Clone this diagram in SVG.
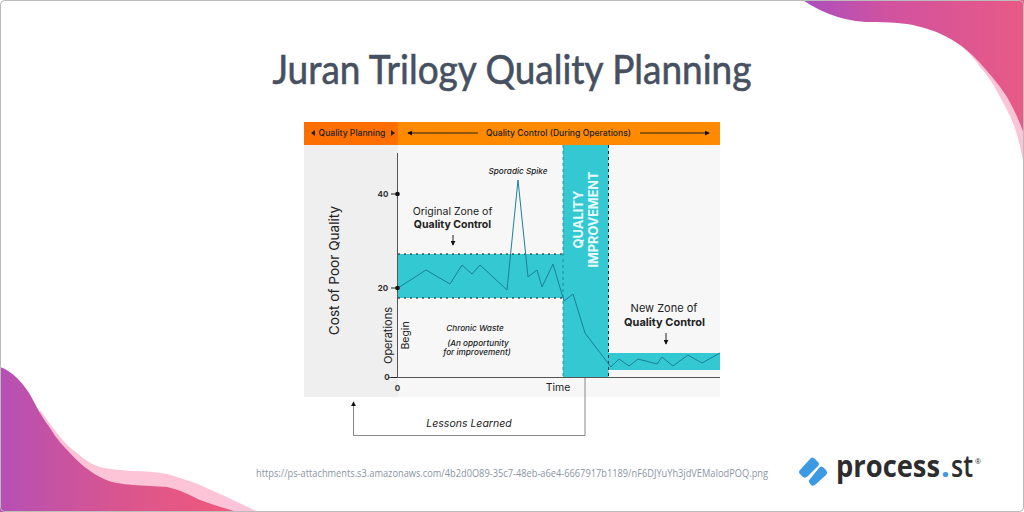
<svg xmlns="http://www.w3.org/2000/svg" width="1024" height="512" viewBox="0 0 1024 512">
<style>
text{font-family:"Inter","Liberation Sans",sans-serif;fill:#222}
.s{font-size:8.6px;font-weight:500}
.i{font-size:8.200px;font-style:italic;font-weight:500}
.m{font-size:10.500px}
.b{font-size:10.500px;font-weight:700}
.m2{font-size:11px}
.b2{font-size:11px;font-weight:700}
.t{font-size:8px;font-weight:700;fill:#333}
.q{font-size:13.500px;font-weight:700;fill:#e8fbfc}
.ax{fill:none;stroke:#555;stroke-width:1}
.thin{fill:none;stroke:#222;stroke-width:1}
.dash{fill:none;stroke:#111;stroke-width:1;stroke-dasharray:2 4}
.lg{font-family:"Open Sans",sans-serif;font-size:31px;font-weight:700;fill:#2d2d2d}
</style>
<defs>
<linearGradient id="g1" gradientUnits="userSpaceOnUse" x1="800" y1="0" x2="1024" y2="0"><stop offset="0" stop-color="#a94fc0"/><stop offset="0.4" stop-color="#d2529f"/><stop offset="1" stop-color="#e85a86"/></linearGradient>
<linearGradient id="g2" gradientUnits="userSpaceOnUse" x1="0" y1="0" x2="240" y2="0"><stop offset="0" stop-color="#b650b4"/><stop offset="0.5" stop-color="#d9558f"/><stop offset="1" stop-color="#f2597a"/></linearGradient>
<marker id="ah" viewBox="0 0 6 6" refX="5" refY="3" markerWidth="5" markerHeight="5" orient="auto-start-reverse" markerUnits="userSpaceOnUse"><path d="M0 0L6 3L0 6Z" fill="#111"/></marker>
</defs>
<rect x="0" y="0" width="1024" height="512" fill="#fff"/>
<g id="decor">
<path d="M947 37C962 44 972 55 980 67C990 78 995 87 1000 97C1006 108 1010 115 1013 123C1018 136 1021 150 1024 165V37Z" fill="#fdc3d6"/>
<path d="M803 0C820 12 845 22 870 22C890 22 902 23 913 25C925 28 936 31 947 37C962 45 972 54 980 63C990 74 1000 86 1007 97C1014 109 1019 120 1024 134V0Z" fill="url(#g1)"/>
<path d="M40 410C46 418 51 426 57 433C64 442 70 448 77 453C84 459 92 465 100 467C112 470 122 470 133 471C145 471 156 472 167 474C178 477 190 481 200 485C220 494 240 503 258 512H40Z" fill="#fdc3d6"/>
<path d="M0 367C6 369 12 373 17 378C24 385 29 392 33 400C38 410 44 420 50 428C56 438 63 446 70 453C79 463 90 472 100 477C111 483 122 484 133 485C145 486 156 486 167 487C180 490 190 495 200 500C213 505 225 508 237 512H0Z" fill="url(#g2)"/>
</g>
<rect x="0.5" y="0.5" width="1023" height="511" rx="4" fill="none" stroke="#bbb" stroke-width="1"/>
<text id="title" x="512" y="84" text-anchor="middle" textLength="479" lengthAdjust="spacingAndGlyphs" style="font-family:'Lato','Open Sans',sans-serif;font-size:40px;font-weight:400;fill:#465060;stroke:#465060;stroke-width:0.6">Juran Trilogy Quality Planning</text>
<g id="panels">
<rect x="304" y="145" width="94" height="252" fill="#efefef"/>
<rect x="398" y="145" width="322" height="252" fill="#f7f7f7"/>
</g>
<g id="header">
<rect x="304" y="122" width="94" height="23" fill="#ff6f00"/>
<rect x="398" y="122" width="322" height="23" fill="#ff8a00"/>
<text class="s" x="352" y="136" text-anchor="middle">Quality Planning</text>
<text class="s" x="558.500" y="136" text-anchor="middle">Quality Control (During Operations)</text>
<path d="M311 133L315 130V136Z M395 133L391 130V136Z" fill="#222"/>
</g>
<g id="bands">
<rect x="398" y="254" width="165" height="44" fill="#33c8d2"/>
<rect x="563" y="145" width="45.500" height="232" fill="#33c8d2"/>
<rect x="608" y="353" width="112" height="17" fill="#33c8d2"/>
<path class="dash" d="M398 254H563M398 298H563"/>
<path d="M563 145V377" fill="none" stroke="#1a7f8c" stroke-width="0.8" stroke-dasharray="3 3"/>
<path d="M608.500 145V377" fill="none" stroke="#0c2f38" stroke-width="1" stroke-dasharray="3 3"/>
</g>
<g id="connectors">
<path class="ax" d="M397.500 153V377.500M388 377.500H720"/>
<path class="thin" d="M391 194H397M391 288H397M391 377.500H397"/>
<path class="thin" marker-start="url(#ah)" d="M408 133H478"/>
<path class="thin" marker-end="url(#ah)" d="M640 133H709"/>
<path class="thin" marker-end="url(#ah)" d="M453 235V245"/>
<path class="thin" marker-end="url(#ah)" d="M666 333V344"/>
<path d="M585 378V435.500H353.500V402" fill="none" stroke="#888" stroke-width="1" marker-end="url(#ah)"/>
<polyline fill="none" stroke="#1b7f9c" stroke-width="1" points="398,288 426,270 450,284 462,265 472,274 480,265 507,290 518,180 528,277 537,270 542,287 553,264 564,301 573,294 585,333 611,367 619,359 629,366 638,359 657,364 662,357 673,366 688,355 702,363 720,353"/>
<circle cx="397.500" cy="194" r="2.300" fill="#111"/>
<circle cx="397.500" cy="288" r="2.300" fill="#111"/>
</g>
<g id="labels">
<text class="t" x="383" y="197" text-anchor="middle">40</text>
<text class="t" x="383" y="291" text-anchor="middle">20</text>
<text class="t" x="387" y="380" text-anchor="middle">0</text>
<text class="t" x="397.500" y="391" text-anchor="middle">0</text>
<text x="339" y="270.500" transform="rotate(-90 339 270.500)" text-anchor="middle" style="font-size:13.600px">Cost of Poor Quality</text>
<text x="392" y="335.500" transform="rotate(-90 392 335.500)" text-anchor="middle" style="font-size:11px">Operations</text>
<text x="409" y="335.500" transform="rotate(-90 409 335.500)" text-anchor="middle" style="font-size:10.500px">Begin</text>
<text class="i" x="518" y="174" text-anchor="middle">Sporadic Spike</text>
<text class="m" x="452.500" y="215" text-anchor="middle">Original Zone of</text>
<text class="b" x="452.500" y="228" text-anchor="middle">Quality Control</text>
<text class="i" x="475" y="331" text-anchor="middle">Chronic Waste</text>
<text class="i" x="478" y="346" text-anchor="middle">(An opportunity</text>
<text class="i" x="477" y="355" text-anchor="middle">for improvement)</text>
<text x="558" y="391" text-anchor="middle" style="font-size:10.500px">Time</text>
<text x="469" y="427" text-anchor="middle" style="font-size:10.500px;font-style:italic">Lessons Learned</text>
<text class="m2" x="664" y="312" text-anchor="middle">New Zone of</text>
<text class="b2" x="664.500" y="326" text-anchor="middle">Quality Control</text>
<text class="q" x="583" y="219.500" transform="rotate(-90 583 219.500)" text-anchor="middle" textLength="58" lengthAdjust="spacingAndGlyphs">QUALITY</text>
<text class="q" x="598" y="219.500" transform="rotate(-90 598 219.500)" text-anchor="middle" textLength="96" lengthAdjust="spacingAndGlyphs">IMPROVEMENT</text>
</g>
<text id="url" x="512" y="477" text-anchor="middle" textLength="512" lengthAdjust="spacingAndGlyphs" style="font-family:'Open Sans',sans-serif;font-size:10px;fill:#8b95a5">https://ps-attachments.s3.amazonaws.com/4b2d0O89-35c7-48eb-a6e4-6667917b1189/nF6DJYuYh3jdVEMaIodPOQ.png</text>
<g id="logo">
<path d="M800 470L810 459Q812 456 815 459L818 462Q820 464 818 466L808 476Q805 479 803 477L800 474Q798 472 800 470Z" fill="#3b9ae1"/>
<path d="M810 479L819 468Q821 465 824 468L826 470Q828 473 826 475L816 484Q813 487 811 485L809 482Q808 481 810 479Z" fill="#3b9ae1"/>
<text class="lg" x="836" y="477" textLength="104" lengthAdjust="spacingAndGlyphs">process</text>
<text class="lg" x="941" y="477" style="fill:#3b9ae1">.</text>
<text class="lg" x="951" y="477" textLength="22" lengthAdjust="spacingAndGlyphs" style="font-weight:600">st</text>
<text x="975" y="464" style="font-family:'Open Sans',sans-serif;font-size:7px;fill:#333">®</text>
</g>
</svg>
